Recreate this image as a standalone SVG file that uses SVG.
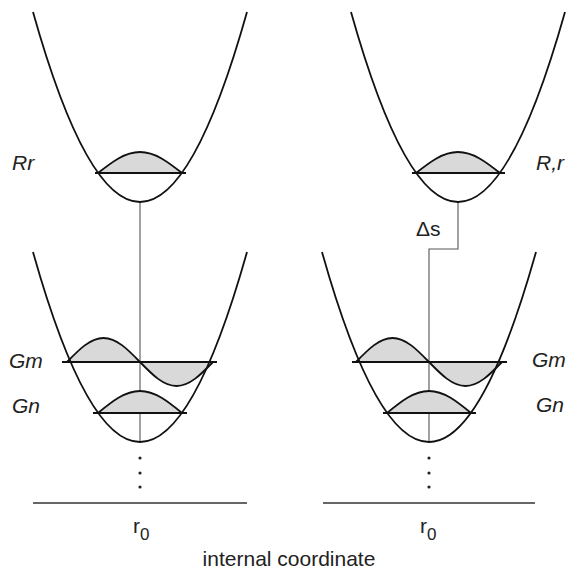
<svg xmlns="http://www.w3.org/2000/svg" width="570" height="571" viewBox="0 0 570 571">
<style>
.bg{fill:#ffffff}
.well{fill:none;stroke:#111;stroke-width:1.8}
.lvl{stroke:#111;stroke-width:1.8;fill:none}
.lobe{fill:#d9d9d9;stroke:#111;stroke-width:1.8;stroke-linejoin:round}
.conn{fill:none;stroke:#555;stroke-width:1.1}
.axis{stroke:#333;stroke-width:1.6}
.dot{fill:#222}
.lab{font-family:"Liberation Sans",Arial,sans-serif;font-size:21px;fill:#222}
.it{font-style:italic}
</style>
<rect class="bg" x="0" y="0" width="570" height="571"/>

<g id="connectors">
  <path class="conn" d="M140,202 V442"/>
  <path class="conn" d="M458,202 V249 H429 V442"/>
</g>

<g id="well-R-left">
  <path class="lobe" d="M98,173 C111.7,162.2 124.8,152 140,152 C155.2,152 168.3,162.2 182,173 Z"/>
  <path class="well" d="M33,12 Q140,392 247,12"/>
  <line class="lvl" x1="95" y1="173" x2="186" y2="173"/>
  <text class="lab it" x="12" y="170" font-size="22">Rr</text>
</g>

<g id="well-R-right">
  <path class="lobe" d="M416,173 C429.7,162.2 442.8,152 458,152 C473.2,152 486.3,162.2 500,173 Z"/>
  <path class="well" d="M351,12 Q458,392 565,12"/>
  <line class="lvl" x1="412" y1="173" x2="505" y2="173"/>
  <text class="lab it" x="536" y="170" font-size="22">R,r</text>
</g>

<g id="well-G-left">
  <path class="lobe" d="M67,362 C78.9,349.7 90.3,338 103.5,338 C116.7,338 128.1,349.7 140,362 Z"/>
  <path class="lobe" d="M140,362 C151.9,374.3 163.3,386 176.5,386 C189.7,386 201.1,374.3 213,362 Z"/>
  <path class="lobe" d="M98,413 C111.7,401.7 124.8,391 140,391 C155.2,391 168.3,401.7 182,413 Z"/>
  <path class="well" d="M33,252 Q140,632 247,252"/>
  <line class="lvl" x1="62" y1="362" x2="217" y2="362"/>
  <line class="lvl" x1="93" y1="413" x2="187" y2="413"/>
  <text class="lab it" x="9" y="368">Gm</text>
  <text class="lab it" x="12" y="413">Gn</text>
  <circle class="dot" cx="140" cy="458" r="1.6"/>
  <circle class="dot" cx="140" cy="473" r="1.6"/>
  <circle class="dot" cx="140" cy="487" r="1.6"/>
  <line class="axis" x1="33" y1="503" x2="247" y2="503"/>
  <text class="lab" x="133" y="533">r<tspan font-size="17" dy="7">0</tspan></text>
</g>

<g id="well-G-right">
  <path class="lobe" d="M356,362 C367.9,349.7 379.3,338 392.5,338 C405.7,338 417.1,349.7 429,362 Z"/>
  <path class="lobe" d="M429,362 C440.9,374.3 452.3,386 465.5,386 C478.7,386 490.1,374.3 502,362 Z"/>
  <path class="lobe" d="M387,413 C400.7,401.7 413.8,391 429,391 C444.2,391 457.3,401.7 471,413 Z"/>
  <path class="well" d="M322,252 Q429,632 536,252"/>
  <line class="lvl" x1="352" y1="362" x2="507" y2="362"/>
  <line class="lvl" x1="383" y1="413" x2="476" y2="413"/>
  <text class="lab it" x="532" y="367">Gm</text>
  <text class="lab it" x="536" y="412">Gn</text>
  <circle class="dot" cx="429" cy="458" r="1.6"/>
  <circle class="dot" cx="429" cy="473" r="1.6"/>
  <circle class="dot" cx="429" cy="487" r="1.6"/>
  <line class="axis" x1="323" y1="503" x2="535" y2="503"/>
  <text class="lab" x="420" y="533">r<tspan font-size="17" dy="7">0</tspan></text>
  <text class="lab" x="416" y="236">Δs</text>
</g>

<text class="lab" x="289" y="566" font-size="24" text-anchor="middle">internal coordinate</text>
</svg>
